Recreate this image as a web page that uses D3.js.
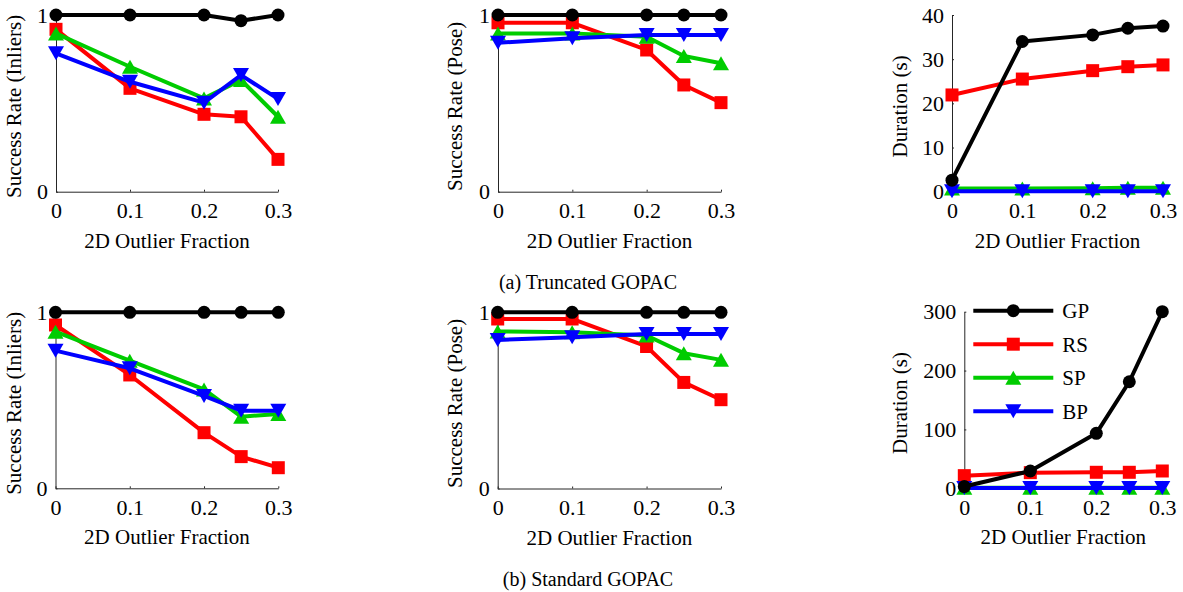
<!DOCTYPE html>
<html>
<head>
<meta charset="utf-8">
<script src="https://cdn.jsdelivr.net/npm/d3@7"></script>
<style>
  body { margin: 0; background: #fff; }
  svg text { font-family: "Liberation Serif", "Times New Roman", serif; fill: #000; }
</style>
</head>
<body>
<div id="chart"></div>
<script>
// outlier fractions on the x axis
var xVals = [0, 0.1, 0.2, 0.25, 0.3];
var xTicks = [0, 0.1, 0.2, 0.3];
var methods = ["GP", "RS", "SP", "BP"];

// (a) Truncated GOPAC
var truncInliersGP = [1, 1, 1, 0.968, 1];
var truncInliersRS = [0.919, 0.585, 0.438, 0.424, 0.183];
var truncInliersSP = [0.896, 0.707, 0.528, 0.632, 0.424];
var truncInliersBP = [0.783, 0.622, 0.504, 0.660, 0.525];

var truncPoseGP = [1, 1, 1, 1, 1];
var truncPoseRS = [0.956, 0.956, 0.802, 0.604, 0.504];
var truncPoseSP = [0.896, 0.896, 0.877, 0.768, 0.727];
var truncPoseBP = [0.843, 0.868, 0.887, 0.887, 0.887];

var truncTimeGP = [2.6, 34.0, 35.5, 37.0, 37.5];
var truncTimeRS = [21.9, 25.5, 27.4, 28.3, 28.7];
var truncTimeSP = [0.7, 0.7, 0.8, 0.9, 0.9];
var truncTimeBP = [0.1, 0.1, 0.1, 0.1, 0.1];

// (b) Standard GOPAC
var stdInliersGP = [1, 1, 1, 1, 1];
var stdInliersRS = [0.928, 0.644, 0.316, 0.18, 0.117];
var stdInliersSP = [0.89, 0.725, 0.562, 0.407, 0.422];
var stdInliersBP = [0.782, 0.682, 0.525, 0.441, 0.441];

var stdPoseGP = [1, 1, 1, 1, 1];
var stdPoseRS = [0.962, 0.962, 0.806, 0.602, 0.504];
var stdPoseSP = [0.891, 0.887, 0.868, 0.768, 0.73];
var stdPoseBP = [0.843, 0.858, 0.877, 0.877, 0.877];

var stdTimeGP = [3, 29.4, 93.4, 181, 300];
var stdTimeRS = [21.5, 26.6, 27.2, 27.2, 29.4];
var stdTimeSP = [1, 1, 1, 1, 1];
var stdTimeBP = [0.5, 0.5, 0.5, 0.5, 0.5];

var rateTicks = [0, 1];
var truncTimeTicks = [0, 10, 20, 30, 40];
var stdTimeTicks = [0, 100, 200, 300];

var colors = { GP: "#000000", RS: "#ff0000", SP: "#00cc00", BP: "#0000ff" };
var drawOrder = ["RS", "SP", "BP", "GP"];

var W = 1183, H = 592;
var svg = d3.select("#chart").append("svg")
    .attr("width", W).attr("height", H);

// panel boxes: left, right, top, bottom of the axes area
var panels = [
  { box: [56, 278, 15, 191.7], ymax: 1, ticks: rateTicks, label: "Success Rate (Inliers)", lab: 35,
    s: { GP: truncInliersGP, RS: truncInliersRS, SP: truncInliersSP, BP: truncInliersBP } },
  { box: [498, 721, 15, 191.7], ymax: 1, ticks: rateTicks, label: "Success Rate (Pose)", lab: 36,
    s: { GP: truncPoseGP, RS: truncPoseRS, SP: truncPoseSP, BP: truncPoseBP } },
  { box: [952, 1163, 15, 191.7], ymax: 40, ticks: truncTimeTicks, label: "Duration (s)", lab: 45,
    s: { GP: truncTimeGP, RS: truncTimeRS, SP: truncTimeSP, BP: truncTimeBP } },
  { box: [55.5, 278.3, 312.3, 488.3], ymax: 1, ticks: rateTicks, label: "Success Rate (Inliers)", lab: 35,
    s: { GP: stdInliersGP, RS: stdInliersRS, SP: stdInliersSP, BP: stdInliersBP } },
  { box: [497.7, 721, 312.3, 488.5], ymax: 1, ticks: rateTicks, label: "Success Rate (Pose)", lab: 36,
    s: { GP: stdPoseGP, RS: stdPoseRS, SP: stdPoseSP, BP: stdPoseBP } },
  { box: [964.3, 1162.3, 311.7, 488.3], ymax: 300, ticks: stdTimeTicks, label: "Duration (s)", lab: 57,
    s: { GP: stdTimeGP, RS: stdTimeRS, SP: stdTimeSP, BP: stdTimeBP }, legend: true }
];

function markerPath(m) {
  if (m == "GP") return d3.symbol().type(d3.symbolCircle).size(Math.PI * 6.5 * 6.5)();
  if (m == "RS") return "M-6.5,-6.5H6.5V6.5H-6.5Z";
  if (m == "SP") return "M0,-7L8,7L-8,7Z";
  return "M0,7L8,-7L-8,-7Z";
}

var line = d3.line();

panels.forEach(function (p) {
  var x = d3.scaleLinear().domain([0, 0.3]).range([p.box[0], p.box[1]]);
  var y = d3.scaleLinear().domain([0, p.ymax]).range([p.box[3], p.box[2]]);
  var g = svg.append("g");

  var xa = g.append("g")
      .attr("transform", "translate(0," + y(0) + ")")
      .call(d3.axisBottom(x).tickValues(xTicks).tickFormat(d3.format("")).tickSizeInner(-2).tickSizeOuter(0).tickPadding(11));
  var ya = g.append("g")
      .attr("transform", "translate(" + x(0) + ",0)")
      .call(d3.axisLeft(y).tickValues(p.ticks).tickFormat(d3.format("")).tickSizeInner(-2).tickSizeOuter(0).tickPadding(8));
  [xa, ya].forEach(function (a) {
    a.attr("font-family", null).attr("font-size", null);
    a.select(".domain").attr("stroke", "#262626").attr("stroke-width", 1);
    a.selectAll(".tick line").attr("stroke", "#262626");
    a.selectAll(".tick text").style("font-size", "22px").attr("fill", "#000");
  });

  g.append("text")
      .attr("x", (p.box[0] + p.box[1]) / 2)
      .attr("y", p.box[3] + 56)
      .attr("text-anchor", "middle")
      .style("font-size", "21px")
      .text("2D Outlier Fraction");

  var cy = (p.box[2] + p.box[3]) / 2 + 3;
  g.append("text")
      .attr("transform", "translate(" + (p.box[0] - p.lab) + "," + cy + ") rotate(-90)")
      .attr("text-anchor", "middle")
      .style("font-size", "21px")
      .text(p.label);

  drawOrder.forEach(function (m) {
    var pts = xVals.map(function (v, i) { return [x(v), y(p.s[m][i])]; });
    g.append("path")
        .attr("d", line(pts))
        .attr("fill", "none")
        .attr("stroke", colors[m])
        .attr("stroke-width", 4)
        .attr("stroke-linejoin", "round");
    g.selectAll(null)
        .data(pts)
        .enter()
        .append("path")
        .attr("transform", function (d) { return "translate(" + d[0] + "," + d[1] + ")"; })
        .attr("d", markerPath(m))
        .attr("fill", colors[m]);
  });

  if (p.legend) {
    var lx = p.box[0] + 9;
    methods.forEach(function (m, i) {
      var ly = 310.7 + i * 33.5;
      g.append("line")
          .attr("x1", lx).attr("x2", lx + 80)
          .attr("y1", ly).attr("y2", ly)
          .attr("stroke", colors[m]).attr("stroke-width", 4);
      g.append("path")
          .attr("transform", "translate(" + (lx + 40) + "," + ly + ")")
          .attr("d", markerPath(m))
          .attr("fill", colors[m]);
      g.append("text")
          .attr("x", lx + 89)
          .attr("y", ly)
          .attr("dy", "0.35em")
          .style("font-size", "21px")
          .text(m);
    });
  }
});

svg.append("text")
    .attr("x", 588).attr("y", 289)
    .attr("text-anchor", "middle")
    .style("font-size", "20px")
    .text("(a) Truncated GOPAC");
svg.append("text")
    .attr("x", 588).attr("y", 586)
    .attr("text-anchor", "middle")
    .style("font-size", "20px")
    .text("(b) Standard GOPAC");
</script>
</body>
</html>
